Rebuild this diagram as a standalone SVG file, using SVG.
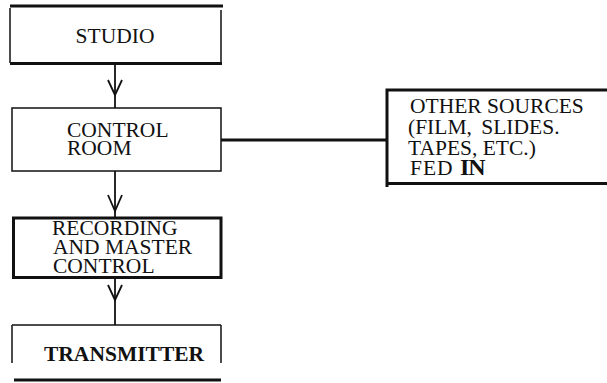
<svg xmlns="http://www.w3.org/2000/svg" width="607" height="383" viewBox="0 0 607 383">
<style>
.t{font-family:"Liberation Serif","Times New Roman",serif;fill:#111;font-size:21.5px}
.thin{stroke:#111;stroke-width:1.5;fill:none}
.thick{stroke:#111;stroke-width:3;fill:none}
.ah{stroke:#111;stroke-width:1.8;fill:none}
</style>
<rect width="607" height="383" fill="#fff"/>
<g id="studio">
<line class="thick" x1="10" y1="6" x2="223" y2="6"/>
<line class="thin" x1="10" y1="8" x2="10" y2="63"/>
<line class="thick" x1="10" y1="63.5" x2="222" y2="63.5"/>
<line class="thin" x1="221" y1="10" x2="221" y2="62"/>
<text class="t" x="115" y="43" text-anchor="middle">STUDIO</text>
</g>
<g id="control-room">
<rect class="thin" x="12" y="108" width="209" height="63"/>
<text class="t" x="67" y="137">CONTROL</text>
<text class="t" x="67" y="155">ROOM</text>
</g>
<g id="recording">
<rect class="thick" x="13.5" y="218" width="207.5" height="59.5"/>
<text class="t" x="52" y="235">RECORDING</text>
<text class="t" x="53" y="254">AND MASTER</text>
<text class="t" x="53" y="273">CONTROL</text>
</g>
<g id="transmitter">
<line class="thin" x1="12" y1="325" x2="221" y2="325"/>
<line class="thin" x1="12" y1="325" x2="12" y2="363"/>
<line class="thin" x1="221" y1="325" x2="221" y2="363"/>
<line class="thick" x1="14" y1="380" x2="221" y2="380"/>
<text class="t" x="44" y="361" font-weight="bold">TRANSMITTER</text>
</g>
<g id="other-sources">
<polyline class="thick" points="607,90 387,90 387,187"/>
<line class="thick" x1="387" y1="183.5" x2="607" y2="183.5"/>
<text class="t" x="410" y="113">OTHER SOURCES</text>
<text class="t" x="408" y="134" word-spacing="4">(FILM, SLIDES.</text>
<text class="t" x="408" y="155">TAPES, ETC.)</text>
<text class="t" x="410" y="175" letter-spacing="1">FED <tspan font-size="24" font-weight="bold" letter-spacing="-1">IN</tspan></text>
</g>
<g id="connectors">
<line class="ah" x1="115" y1="64" x2="115" y2="108"/>
<polyline class="ah" points="108,80 115,95 122,80"/>
<line class="ah" x1="115" y1="171" x2="115" y2="218"/>
<polyline class="ah" points="108,195 115,211 122,195"/>
<line class="ah" x1="115" y1="278" x2="115" y2="325"/>
<polyline class="ah" points="108,285 115,300 122,285"/>
<line class="thick" x1="221" y1="140" x2="387" y2="140"/>
</g>
</svg>
